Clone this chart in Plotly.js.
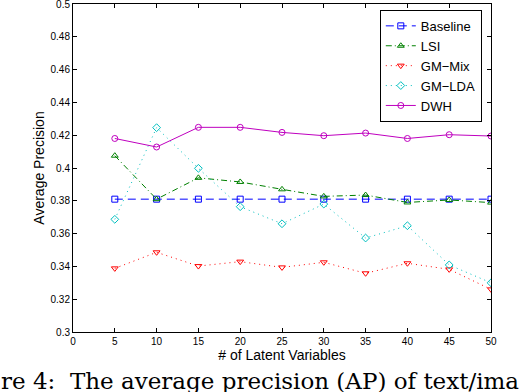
<!DOCTYPE html>
<html>
<head>
<meta charset="utf-8">
<script src="https://cdn.plot.ly/plotly-3.0.1.min.js"></script>
<style>
  html, body { margin: 0; padding: 0; background: #fff; }
  #chart { width: 524px; height: 392px; }
</style>
</head>
<body>
<div id="chart"></div>
<script>
/* ─── Average precision vs. number of latent variables ─── */

const latentVars = [5, 10, 15, 20, 25, 30, 35, 40, 45, 50];

const baseline = [0.381, 0.381, 0.381, 0.381, 0.381, 0.381, 0.381, 0.381, 0.381, 0.381];
const lsi      = [0.4075, 0.381, 0.394, 0.3915, 0.387, 0.3827, 0.3835, 0.379, 0.3805, 0.3789];
const gmMix    = [0.3388, 0.3486, 0.3402, 0.3429, 0.3394, 0.3425, 0.3358, 0.3419, 0.3382, 0.326];
const gmLda    = [0.3687, 0.4246, 0.3998, 0.3764, 0.366, 0.378, 0.3573, 0.3648, 0.3409, 0.330];
const dwh      = [0.418, 0.4128, 0.4248, 0.4248, 0.4217, 0.4197, 0.4213, 0.418, 0.4203, 0.4195];

const xTicks = [0, 5, 10, 15, 20, 25, 30, 35, 40, 45, 50];
const yTicks = [0.3, 0.32, 0.34, 0.36, 0.38, 0.4, 0.42, 0.44, 0.46, 0.48, 0.5];

const FONT = 'Liberation Sans, Arial, sans-serif';

function series(name, y, color, dash, symbol) {
    return {
        x: latentVars,
        y: y,
        name: name,
        type: 'scatter',
        mode: 'lines+markers',
        line: { color: color, width: 1, dash: dash },
        marker: { symbol: symbol, size: 6, color: color, line: { color: color, width: 1 } },
    };
}

const traces = [
    series('Baseline', baseline, '#0000FF', '8px,5px', 'square-open'),
    series('LSI', lsi, '#008000', '6px,3px,1px,3px', 'triangle-up-open'),
    series('GM\u2212Mix', gmMix, '#FF0000', '1px,4px', 'triangle-down-open'),
    series('GM\u2212LDA', gmLda, '#00BFBF', '1px,4px', 'diamond-open'),
    series('DWH', dwh, '#BF00BF', 'solid', 'circle-open'),
];

const axisBase = {
    showline: true,
    linecolor: '#000',
    linewidth: 1,
    mirror: 'ticks',
    ticks: 'inside',
    ticklen: 4,
    tickcolor: '#000',
    showgrid: false,
    zeroline: false,
    ticklabeloverflow: 'allow',
    tickfont: { family: FONT, size: 10, color: '#000' },
};

const layout = {
    width: 524,
    height: 392,
    margin: { l: 73, r: 33, t: 4, b: 60 },
    paper_bgcolor: '#fff',
    plot_bgcolor: '#fff',
    font: { family: FONT, color: '#000' },
    xaxis: {
        ...axisBase,
        range: [0, 50],
        tickvals: xTicks,
        title: { text: '# of Latent Variables', font: { family: FONT, size: 14 }, standoff: 4 },
    },
    yaxis: {
        ...axisBase,
        range: [0.3, 0.5],
        tickvals: yTicks,
        title: { text: 'Average Precision', font: { family: FONT, size: 14 }, standoff: 2 },
    },
    showlegend: true,
    legend: {
        x: 0.978, y: 0.982, xanchor: 'right', yanchor: 'top',
        bordercolor: '#000', borderwidth: 1, bgcolor: '#fff',
        font: { family: FONT, size: 13 },
        tracegroupgap: 0,
    },
    annotations: [{
        text: 're 4:  The average precision (AP) of text/ima',
        xref: 'paper', yref: 'paper',
        x: -74 / 418, y: -64 / 328,
        xanchor: 'left', yanchor: 'bottom',
        showarrow: false,
        font: { family: 'DejaVu Serif, serif', size: 23, color: '#000' },
    }],
};

Plotly.newPlot('chart', traces, layout, { staticPlot: true, displayModeBar: false });
</script>
</body>
</html>
